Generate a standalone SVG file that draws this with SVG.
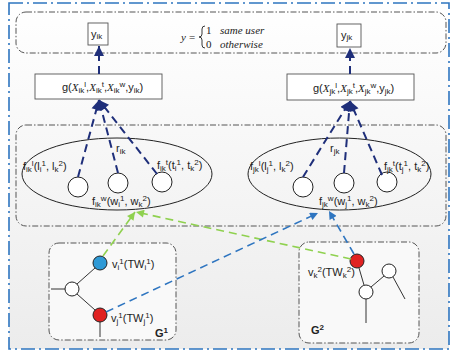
<svg xmlns="http://www.w3.org/2000/svg" width="454" height="356" viewBox="0 0 454 356">
  <defs>
    <linearGradient id="bg" x1="0" y1="0" x2="0" y2="1">
      <stop offset="0" stop-color="#ffffff"/>
      <stop offset="1" stop-color="#ececec"/>
    </linearGradient>
    <marker id="ahNavy" viewBox="0 0 10 10" refX="10" refY="5" markerWidth="11" markerHeight="10" markerUnits="userSpaceOnUse" orient="auto">
      <path d="M0,0 L10,5 L0,10 Z" fill="#1f2f7a"/>
    </marker>
    <marker id="ahBlue" viewBox="0 0 10 10" refX="10" refY="5" markerWidth="9" markerHeight="8" markerUnits="userSpaceOnUse" orient="auto">
      <path d="M0,0 L10,5 L0,10 Z" fill="#2e75c0"/>
    </marker>
    <marker id="ahGreen" viewBox="0 0 10 10" refX="10" refY="5" markerWidth="9" markerHeight="8" markerUnits="userSpaceOnUse" orient="auto">
      <path d="M0,0 L10,5 L0,10 Z" fill="#8fd14f"/>
    </marker>
  </defs>
  <style>
    .frame { fill: none; stroke: #2e75c0; stroke-width: 1.6; stroke-dasharray: 14 4 2 4; }
    .group { fill: none; stroke: #555; stroke-width: 1; stroke-dasharray: 6 2 1.5 2; }
    .gbox { fill: #f9f9f9; stroke: #555; stroke-width: 1; stroke-dasharray: 6 2 1.5 2; }
    .box { fill: #ffffff; stroke: #555; stroke-width: 0.9; }
    .ell { fill: none; stroke: #222; stroke-width: 1; }
    .node { fill: #ffffff; stroke: #222; stroke-width: 1; }
    .edge { stroke: #333; stroke-width: 1; fill: none; }
    .t { font-family: "Liberation Sans", Arial, sans-serif; font-size: 11px; fill: #222; }
    .s { font-size: 8px; }
    .m { font-family: "Liberation Serif", serif; font-style: italic; }
    .f { font-family: "Liberation Serif", serif; font-size: 11px; fill: #222; }
    .navy { stroke: #1f2f7a; stroke-width: 2; stroke-dasharray: 8 5; fill: none; }
    .blue { stroke: #2e75c0; stroke-width: 1.6; stroke-dasharray: 8 5; fill: none; }
    .green { stroke: #8fd14f; stroke-width: 1.6; stroke-dasharray: 8 5; fill: none; }
  </style>

  <!-- background and outer frame -->
  <rect x="9" y="3" width="440" height="346" fill="url(#bg)"/>
  <rect class="frame" x="9" y="3" width="440" height="346"/>

  <!-- decision layer -->
  <g id="decision">
    <rect class="group" x="16" y="12" width="430" height="41" rx="10"/>
    <text class="f" x="181" y="41" font-style="italic">y</text>
    <text class="f" x="189" y="41">=</text>
    <path d="M205,26 Q202,26 202,29 L202,34 Q202,37 199,37 Q202,37 202,40 L202,45 Q202,48 205,48" fill="none" stroke="#222" stroke-width="0.9"/>
    <text class="f" x="206" y="34" font-size="12">1</text>
    <text class="f" x="220" y="34" font-style="italic">same user</text>
    <text class="f" x="206" y="48" font-size="12">0</text>
    <text class="f" x="220" y="48" font-style="italic">otherwise</text>
  </g>

  <g id="y-ik">
    <rect class="box" x="88" y="23" width="20" height="22"/>
    <text class="t" x="91" y="38">y<tspan class="s" dy="1">ik</tspan></text>
  </g>
  <g id="y-jk">
    <rect class="box" x="337" y="24" width="24" height="23"/>
    <text class="t" x="341" y="39">y<tspan class="s" dy="1">jk</tspan></text>
  </g>

  <g id="g-ik">
    <rect class="box" x="35" y="74" width="127" height="25"/>
    <text class="t" x="62" y="91">g(<tspan class="m">X</tspan><tspan class="s" dy="2">ik</tspan><tspan class="s" dy="-6">l</tspan><tspan dy="4">,</tspan><tspan class="m">X</tspan><tspan class="s" dy="2">ik</tspan><tspan class="s" dy="-6">t</tspan><tspan dy="4">,</tspan><tspan class="m">X</tspan><tspan class="s" dy="2">ik</tspan><tspan class="s" dy="-6">w</tspan><tspan dy="4">,y</tspan><tspan class="s" dy="2">ik</tspan><tspan dy="-2">)</tspan></text>
  </g>
  <g id="g-jk">
    <rect class="box" x="287" y="74" width="127" height="26"/>
    <text class="t" x="313" y="92">g(<tspan class="m">X</tspan><tspan class="s" dy="2">jk</tspan><tspan class="s" dy="-6">l</tspan><tspan dy="4">,</tspan><tspan class="m">X</tspan><tspan class="s" dy="2">jk</tspan><tspan class="s" dy="-6">t</tspan><tspan dy="4">,</tspan><tspan class="m">X</tspan><tspan class="s" dy="2">jk</tspan><tspan class="s" dy="-6">w</tspan><tspan dy="4">,y</tspan><tspan class="s" dy="2">jk</tspan><tspan dy="-2">)</tspan></text>
  </g>

  <!-- feature layer -->
  <g id="features">
    <rect class="group" x="16" y="125" width="430" height="101" rx="10"/>
  </g>

  <g id="r-ik">
    <ellipse class="ell" cx="117" cy="174" rx="95" ry="36"/>
    <circle class="node" cx="78" cy="187" r="10"/>
    <circle class="node" cx="118" cy="183" r="10"/>
    <circle class="node" cx="162" cy="182" r="10"/>
    <text class="t" x="116" y="152">r<tspan class="s" dy="2">ik</tspan></text>
    <text class="t" x="23" y="170">f<tspan class="s" dy="2">ik</tspan><tspan class="s" dy="-6">l</tspan><tspan dy="4">(l</tspan><tspan class="s" dy="2">i</tspan><tspan class="s" dy="-6">1</tspan><tspan dy="4">, l</tspan><tspan class="s" dy="2">k</tspan><tspan class="s" dy="-6">2</tspan><tspan dy="4">)</tspan></text>
    <text class="t" x="157" y="169">f<tspan class="s" dy="2">ik</tspan><tspan class="s" dy="-6">t</tspan><tspan dy="4">(t</tspan><tspan class="s" dy="2">i</tspan><tspan class="s" dy="-6">1</tspan><tspan dy="4">, t</tspan><tspan class="s" dy="2">k</tspan><tspan class="s" dy="-6">2</tspan><tspan dy="4">)</tspan></text>
    <text class="t" x="92" y="205">f<tspan class="s" dy="2">ik</tspan><tspan class="s" dy="-6">w</tspan><tspan dy="4">(w</tspan><tspan class="s" dy="2">i</tspan><tspan class="s" dy="-6">1</tspan><tspan dy="4">, w</tspan><tspan class="s" dy="2">k</tspan><tspan class="s" dy="-6">2</tspan><tspan dy="4">)</tspan></text>
  </g>

  <g id="r-jk">
    <ellipse class="ell" cx="339.5" cy="174" rx="91.5" ry="36"/>
    <circle class="node" cx="303" cy="187" r="10"/>
    <circle class="node" cx="344" cy="183" r="10"/>
    <circle class="node" cx="387" cy="182" r="10"/>
    <text class="t" x="330" y="152">r<tspan class="s" dy="2">jk</tspan></text>
    <text class="t" x="250" y="170">f<tspan class="s" dy="2">jk</tspan><tspan class="s" dy="-6">l</tspan><tspan dy="4">(l</tspan><tspan class="s" dy="2">j</tspan><tspan class="s" dy="-6">1</tspan><tspan dy="4">, l</tspan><tspan class="s" dy="2">k</tspan><tspan class="s" dy="-6">2</tspan><tspan dy="4">)</tspan></text>
    <text class="t" x="384" y="170">f<tspan class="s" dy="2">jk</tspan><tspan class="s" dy="-6">t</tspan><tspan dy="4">(t</tspan><tspan class="s" dy="2">j</tspan><tspan class="s" dy="-6">1</tspan><tspan dy="4">, t</tspan><tspan class="s" dy="2">k</tspan><tspan class="s" dy="-6">2</tspan><tspan dy="4">)</tspan></text>
    <text class="t" x="319" y="205">f<tspan class="s" dy="2">jk</tspan><tspan class="s" dy="-6">w</tspan><tspan dy="4">(w</tspan><tspan class="s" dy="2">j</tspan><tspan class="s" dy="-6">1</tspan><tspan dy="4">, w</tspan><tspan class="s" dy="2">k</tspan><tspan class="s" dy="-6">2</tspan><tspan dy="4">)</tspan></text>
  </g>

  <!-- graph G1 -->
  <g id="G1">
    <rect class="gbox" x="49" y="243" width="127" height="97" rx="10"/>
    <line class="edge" x1="51" y1="289" x2="65" y2="289"/>
    <line class="edge" x1="77" y1="284" x2="95" y2="268"/>
    <line class="edge" x1="77" y1="294" x2="95" y2="310"/>
    <line class="edge" x1="100" y1="322" x2="100" y2="337"/>
    <circle class="node" cx="72" cy="289" r="7"/>
    <circle cx="100" cy="263" r="7" fill="#2f9ad6" stroke="#222" stroke-width="1"/>
    <circle cx="100" cy="315" r="7" fill="#e02222" stroke="#222" stroke-width="1"/>
    <text class="t" x="112" y="268">v<tspan class="s" dy="2">i</tspan><tspan class="s" dy="-6">1</tspan><tspan dy="4">(TW</tspan><tspan class="s" dy="2">i</tspan><tspan class="s" dy="-6">1</tspan><tspan dy="4">)</tspan></text>
    <text class="t" x="111" y="322">v<tspan class="s" dy="2">j</tspan><tspan class="s" dy="-6">1</tspan><tspan dy="4">(TW</tspan><tspan class="s" dy="2">j</tspan><tspan class="s" dy="-6">1</tspan><tspan dy="4">)</tspan></text>
    <text class="t" x="155" y="337" font-weight="bold">G<tspan class="s" dy="-4">1</tspan></text>
  </g>

  <!-- graph G2 -->
  <g id="G2">
    <rect class="gbox" x="299" y="242" width="120" height="101" rx="10"/>
    <line class="edge" x1="359" y1="268" x2="364" y2="285"/>
    <line class="edge" x1="371" y1="287" x2="384" y2="276"/>
    <line class="edge" x1="393" y1="277" x2="405" y2="299"/>
    <line class="edge" x1="366" y1="299" x2="366" y2="323"/>
    <circle cx="357" cy="261" r="7" fill="#e02222" stroke="#222" stroke-width="1"/>
    <circle class="node" cx="366" cy="292" r="7"/>
    <circle class="node" cx="389" cy="271" r="7"/>
    <text class="t" x="308" y="276">v<tspan class="s" dy="2">k</tspan><tspan class="s" dy="-6">2</tspan><tspan dy="4">(TW</tspan><tspan class="s" dy="2">k</tspan><tspan class="s" dy="-6">2</tspan><tspan dy="4">)</tspan></text>
    <text class="t" x="311" y="334" font-weight="bold">G<tspan class="s" dy="-4">2</tspan></text>
  </g>

  <!-- connectors -->
  <g id="connectors">
    <line class="navy" x1="99" y1="74" x2="99" y2="46" marker-end="url(#ahNavy)"/>
    <line class="navy" x1="350" y1="74" x2="350" y2="48" marker-end="url(#ahNavy)"/>
    <line class="navy" x1="78" y1="177" x2="99" y2="100" marker-end="url(#ahNavy)"/>
    <line class="navy" x1="118" y1="173" x2="99" y2="100" marker-end="url(#ahNavy)"/>
    <line class="navy" x1="157" y1="174" x2="99" y2="100" marker-end="url(#ahNavy)"/>
    <line class="navy" x1="303" y1="177" x2="350" y2="101" marker-end="url(#ahNavy)"/>
    <line class="navy" x1="344" y1="173" x2="350" y2="101" marker-end="url(#ahNavy)"/>
    <line class="navy" x1="382" y1="175" x2="350" y2="101" marker-end="url(#ahNavy)"/>
    <line class="green" x1="103" y1="256" x2="135" y2="212" marker-end="url(#ahGreen)"/>
    <line class="green" x1="351" y1="259" x2="136" y2="212" marker-end="url(#ahGreen)"/>
    <line class="blue" x1="106" y1="312" x2="318" y2="213" marker-end="url(#ahBlue)"/>
    <line class="blue" x1="354" y1="254" x2="329" y2="211" marker-end="url(#ahBlue)"/>
  </g>
</svg>
